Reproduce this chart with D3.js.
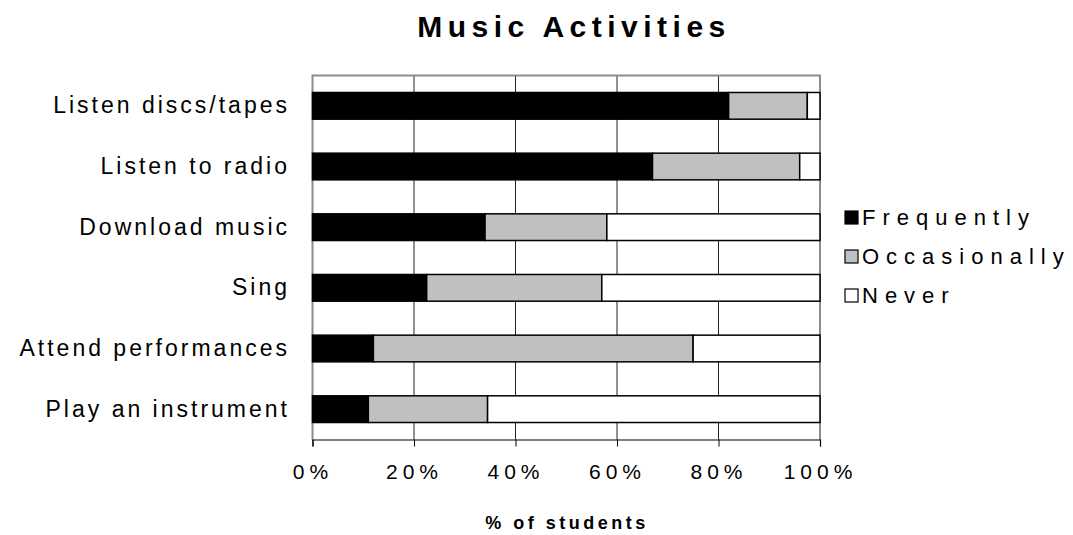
<!DOCTYPE html>
<html>
<head>
<meta charset="utf-8">
<script src="https://cdn.jsdelivr.net/npm/d3@7"></script>
<style>
  html, body { margin: 0; padding: 0; background: #fff; }
  svg text { font-family: "Liberation Sans", Arial, sans-serif; fill: #000; }
</style>
</head>
<body>
<svg id="chart" width="1073" height="535"></svg>
<script>
// Share of students taking part in each music activity (percent)
const categories = ["Listen discs/tapes", "Listen to radio", "Download music", "Sing", "Attend performances", "Play an instrument"];
const seriesNames = ["Frequently", "Occasionally", "Never"];
const frequently   = [82, 67, 34, 22.5, 12, 11];
const occasionally = [15.5, 29, 24, 34.5, 63, 23.5];
const never        = [2.5, 4, 42, 43, 25, 65.5];
const tickValues = [0, 20, 40, 60, 80, 100];
const tickLabels = ["0%", "20%", "40%", "60%", "80%", "100%"];

const colors = { "Frequently": "#000000", "Occasionally": "#c0c0c0", "Never": "#ffffff" };

const rows = categories.map((c, i) => ({
  category: c,
  Frequently: frequently[i],
  Occasionally: occasionally[i],
  Never: never[i]
}));

const svg = d3.select("#chart");
const plot = { left: 312.5, right: 820, top: 75.5, bottom: 439.5 };

const x = d3.scaleLinear().domain([0, 100]).range([plot.left, plot.right]);
const y = d3.scaleBand().domain(categories).range([plot.top, plot.bottom])
  .paddingInner(0.56).paddingOuter(0.28);

// Vertical gridlines
svg.append("g").selectAll("line")
  .data(tickValues.slice(1, -1))
  .join("line")
  .attr("x1", d => x(d)).attr("x2", d => x(d))
  .attr("y1", plot.top).attr("y2", plot.bottom)
  .attr("stroke", "#222").attr("stroke-width", 1);

// Plot frame (grey left, top and right edges)
svg.append("path")
  .attr("d", `M${plot.left},${plot.bottom} V${plot.top} H${plot.right} V${plot.bottom}`)
  .attr("fill", "none").attr("stroke", "#8c8c8c").attr("stroke-width", 2);

// Stacked bars
const stack = d3.stack().keys(seriesNames)(rows);
svg.append("g").selectAll("g")
  .data(stack)
  .join("g")
  .attr("fill", d => colors[d.key])
  .selectAll("rect")
  .data(d => d)
  .join("rect")
  .attr("x", d => x(d[0]))
  .attr("width", d => x(d[1]) - x(d[0]))
  .attr("y", d => y(d.data.category))
  .attr("height", y.bandwidth())
  .attr("stroke", "#000").attr("stroke-width", 1.5);

// X axis
const xAxis = d3.axisBottom(x).tickValues(tickValues)
  .tickFormat((d, i) => tickLabels[i]).tickSize(7).tickPadding(18);
const gx = svg.append("g").attr("transform", `translate(0,${plot.bottom})`).call(xAxis);
gx.select(".domain").attr("stroke", "#000").attr("stroke-width", 1.2);
gx.selectAll(".tick line").attr("stroke", "#000");
gx.selectAll(".tick text")
  .attr("font-size", 21).attr("letter-spacing", "5px")
  .attr("font-family", "Liberation Sans, Arial, sans-serif");

// Category labels
const yAxis = d3.axisLeft(y).tickSize(0).tickPadding(22.5);
const gy = svg.append("g").attr("transform", `translate(${plot.left},0)`).call(yAxis);
gy.select(".domain").remove();
gy.selectAll(".tick text")
  .attr("font-size", 23).attr("letter-spacing", "3px")
  .attr("font-family", "Liberation Sans, Arial, sans-serif");

// Title
svg.append("text")
  .attr("x", 574).attr("y", 37)
  .attr("text-anchor", "middle")
  .attr("font-size", 30).attr("font-weight", "bold").attr("letter-spacing", "5.5px")
  .text("Music Activities");

// X axis title
svg.append("text")
  .attr("x", 567).attr("y", 529)
  .attr("text-anchor", "middle")
  .attr("font-size", 18).attr("font-weight", "bold").attr("letter-spacing", "3.5px")
  .text("% of students");

// Legend
const legend = svg.append("g").attr("transform", "translate(845,211)");
const item = legend.selectAll("g")
  .data(seriesNames)
  .join("g")
  .attr("transform", (d, i) => `translate(0,${i * 39})`);
item.append("rect")
  .attr("width", 13).attr("height", 13)
  .attr("fill", d => colors[d])
  .attr("stroke", "#000").attr("stroke-width", 1.2);
item.append("text")
  .attr("x", 17).attr("y", 14)
  .attr("font-size", 22).attr("letter-spacing", "7px")
  .text(d => d);
</script>
</body>
</html>
